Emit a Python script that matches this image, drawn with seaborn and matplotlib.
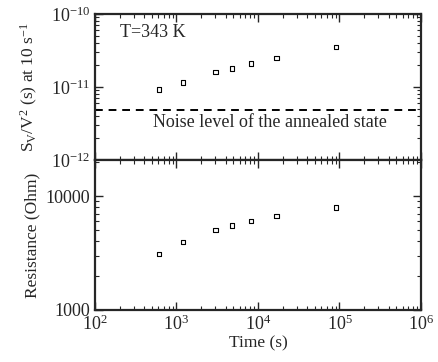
import numpy as np
import pandas as pd
import matplotlib
matplotlib.use("Agg")
import matplotlib.pyplot as plt
import matplotlib.ticker as mticker
import seaborn as sns

time_s = [610, 1200, 3000, 4800, 8200, 16900, 90000]
noise_sv = [9.2e-12, 1.15e-11, 1.6e-11, 1.8e-11, 2.1e-11, 2.5e-11, 3.55e-11]
resistance = [3100, 3930, 5060, 5530, 6070, 6640, 7960]
annealed_level = 4.9e-12

sns.set_style("ticks")
plt.rcParams['font.family'] = ['Liberation Serif', 'DejaVu Serif']
plt.rcParams['mathtext.fontset'] = 'custom'
plt.rcParams['mathtext.rm'] = 'Liberation Serif'
plt.rcParams['mathtext.it'] = 'Liberation Serif:italic'
plt.rcParams['mathtext.default'] = 'regular'

df = pd.DataFrame({"time": time_s, "sv": noise_sv, "R": resistance})

fig, (ax1, ax2) = plt.subplots(2, 1, figsize=(4.39, 3.62), dpi=100, sharex=True,
                               gridspec_kw={"height_ratios": [146, 150], "hspace": 0})
fig.subplots_adjust(left=95/439, right=421/439, top=1-14/362, bottom=1-310/362)

for ax, ycol in ((ax1, "sv"), (ax2, "R")):
    sns.scatterplot(data=df, x="time", y=ycol, ax=ax, marker='s', s=10,
                    facecolor='none', edgecolor='black', linewidth=0.8, legend=False)
    ax.set_xscale('log')
    ax.set_yscale('log')
    ax.set_xlim(1e2, 1e6)
    for s in ax.spines.values():
        s.set_linewidth(1.6)
    ax.tick_params(which='both', direction='in', top=True, right=True, labelsize=13)
    ax.tick_params(which='major', length=6, width=1.0)
    ax.tick_params(which='minor', length=3, width=0.8)
    ax.xaxis.set_major_locator(mticker.LogLocator(base=10, numticks=10))
    ax.xaxis.set_minor_locator(mticker.LogLocator(base=10, subs=np.arange(2, 10), numticks=20))
    ax.yaxis.set_minor_locator(mticker.LogLocator(base=10, subs=np.arange(2, 10), numticks=20))
    ax.xaxis.set_minor_formatter(mticker.NullFormatter())
    ax.yaxis.set_minor_formatter(mticker.NullFormatter())

ax1.set_ylim(1e-12, 1e-10)
ax1.yaxis.set_major_locator(mticker.FixedLocator([1e-12, 1e-11, 1e-10]))
ax1.yaxis.set_major_formatter(mticker.LogFormatterMathtext())
ax1.axhline(annealed_level, color='black', linestyle=(0, (4, 3)), linewidth=1.4)
ax1.text(203, 5.6e-11, "T=343 K", fontsize=13, ha='left', va='center')
ax1.text(515, 3.3e-12, "Noise level of the annealed state", fontsize=13, ha='left', va='center')
ax1.set_ylabel(r"S$_V$/V$^2$ (s) at 10 s$^{-1}$", fontsize=12.5)
ax1.set_xlabel("")
ax1.tick_params(axis='x', labelbottom=False)

ax2.set_ylim(1000, 20700)
ax2.yaxis.set_major_locator(mticker.FixedLocator([1000, 10000]))
ax2.yaxis.set_major_formatter(mticker.FuncFormatter(lambda v, p: f"{int(round(v))}"))
ax2.xaxis.set_major_formatter(mticker.LogFormatterMathtext())
ax2.set_ylabel("Resistance (Ohm)", fontsize=12.5)
ax2.set_xlabel("Time (s)", fontsize=12.5, labelpad=1)

fig.align_ylabels([ax1, ax2])
fig.savefig("out.png", dpi=100)
